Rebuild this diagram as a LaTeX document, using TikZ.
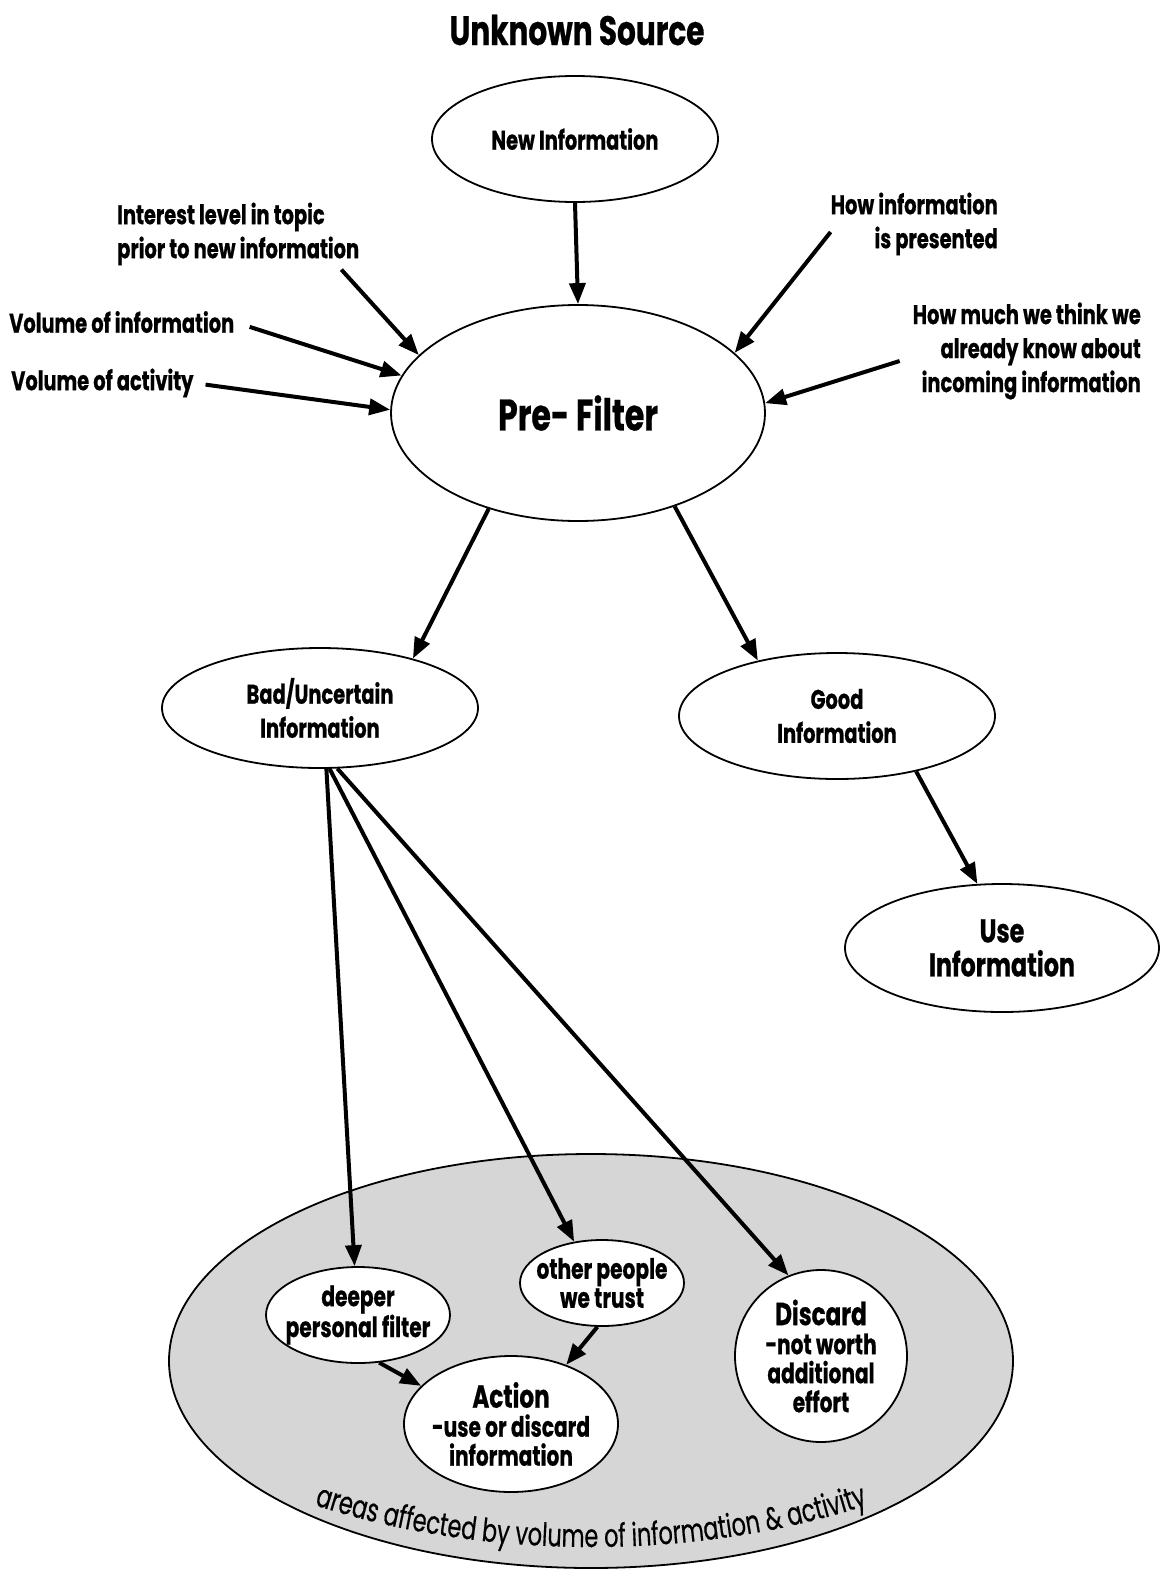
\documentclass[tikz,border=0pt]{standalone}
\usepackage{fontspec}
\newfontfamily\ff{Poppins}[FakeStretch=0.72, BoldFeatures={FakeBold=0.6}]
\newfontfamily\ffr{Poppins}[FakeStretch=0.7, FakeBold=0.4]
\newcommand\curvefont{\ffr\fontsize{32}{32}\selectfont}
\usetikzlibrary{arrows.meta,shapes.geometric,decorations.text,calc}
\definecolor{areagray}{RGB}{214,214,214}
\begin{document}
\begin{tikzpicture}[x=1pt,y=-1pt,
  lab/.style={font=\ff\bfseries\fontsize{27}{34}\selectfont, inner sep=0pt},
  ell/.style={ellipse, draw, line width=1.8pt, fill=white, inner xsep=-30pt, inner ysep=-25pt, align=center,
    font=\ff\bfseries\fontsize{27}{34}\selectfont},
  tight/.style={font=\ff\bfseries\fontsize{28}{29}\selectfont},
  arr/.style={line width=4pt, -{Triangle[length=21pt,width=16pt]}},
]
\useasboundingbox[fill=white] (0,0) rectangle (1161,1569);

% title
\node[lab, font=\ff\bfseries\fontsize{41}{41}\selectfont] (title) at (577,30) {Unknown Source};

% top part
\node[ell, minimum width=286pt, minimum height=126pt] (newi) at (575,139) {New Information};
\node[ell, minimum width=374pt, minimum height=216pt,
  font=\ff\bfseries\fontsize{44}{44}\selectfont] (pre) at (578,413) {Pre- Filter};

\node[lab, align=left, anchor=west] (int) at (117,234) {Interest level in topic\\prior to new information};
\node[lab, anchor=west] (voli) at (9,322) {Volume of information};
\node[lab, anchor=west] (vola) at (11,383) {Volume of activity};
\node[lab, align=right, anchor=east] (howi) at (998,224) {How information\\is presented};
\node[lab, align=right, anchor=east] (howm) at (1141,351) {How much we think we\\already know about\\incoming information};

% middle
\node[ell, minimum width=316pt, minimum height=120pt] (bad) at (320,708) {Bad/Uncertain\\Information};
\node[ell, minimum width=316pt, minimum height=126pt] (good) at (837,716) {Good\\Information};
\node[ell, minimum width=314pt, minimum height=128pt,
  font=\ff\bfseries\fontsize{33}{34}\selectfont] (use) at (1002,948) {Use\\Information};

% bottom area
\node[ellipse, draw, line width=1.8pt, fill=areagray, minimum width=844pt, minimum height=414pt] (area) at (591,1361) {};
\coordinate (cc) at (591,1247);
\path[decorate, decoration={text along path, text align=center,
  text={|\curvefont|areas affected by volume of information {\&} activity}}]
  ([shift={(222:542pt and 300pt)}]cc) arc[start angle=222, end angle=318, x radius=542pt, y radius=300pt];

\node[ell, tight, minimum width=184pt, minimum height=96pt] (deeper) at (358,1315) {deeper\\personal filter};
\node[ell, tight, minimum width=164pt, minimum height=86pt] (other) at (602,1283) {other people\\we trust};
\node[ell, tight, minimum width=214pt, minimum height=136pt] (action) at (511,1424)
  {{\fontsize{32}{29}\selectfont Action}\\-use or discard\\information};
\node[ell, tight, minimum width=172pt, minimum height=172pt] (discard) at (821,1356)
  {{\fontsize{32}{29}\selectfont Discard}\\-not worth\\additional\\effort};

% connectors
\draw[arr] (newi.south) -- (pre.north);
\draw[arr] ([xshift=-18pt,yshift=-4pt]int.south east) -- (pre.160);
\draw[arr, shorten <=16pt] (voli.east) -- (pre.168);
\draw[arr, shorten <=12pt] (vola.east) -- (pre.179);
\draw[arr] ([yshift=-8pt]howi.west) -- (pre.21.8);
\draw[arr] ([xshift=-13pt,yshift=-10pt]howm.west) -- (pre.3.7);

\draw[arr] (pre.227.8) -- (bad.28.5);
\draw[arr] (pre.316.8) -- (good.145.8);
\draw[arr] (good.325.7) -- (use.111.8);

\draw[arr] (bad.276.7) -- (deeper.94.7);
\draw[arr] (bad.279.5) -- (other.124.9);
\draw[arr] (bad.286.7) -- (discard.112.9);
\draw[arr] (deeper.294.2) -- (action.157.2);
\draw[arr] (other.264.8) -- (action.47);
\end{tikzpicture}
\end{document}
